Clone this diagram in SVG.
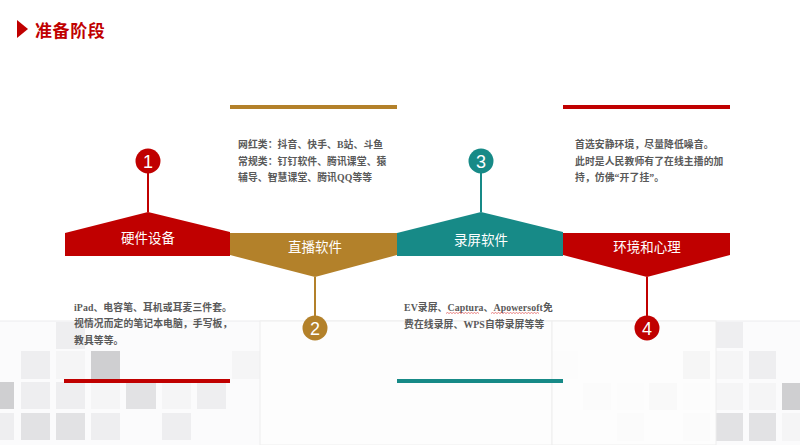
<svg xmlns="http://www.w3.org/2000/svg" width="800" height="445" viewBox="0 0 800 445">
  <style>
    .seg-label { font-family: "Noto Sans CJK SC", "Noto Sans", sans-serif; font-size: 13.5px; fill: #ffffff; text-anchor: middle; }
    .num { font-family: "Liberation Sans", Arial, sans-serif; font-size: 18px; fill: #ffffff; text-anchor: middle; }
    .body { font-family: "Liberation Serif", "Noto Sans CJK SC", serif; font-size: 9.8px; fill: #595959; font-weight: bold; letter-spacing: 0.1px; }
    .red { fill: #c00000; }
    .gold { fill: #b3812a; }
    .teal { fill: #178a87; }
    .stem { stroke-width: 2; fill: none; }
    .wavy { stroke: #e05050; stroke-width: 0.7; fill: none; }
    .sq1 { fill: #cfcfd1; }
    .sq2 { fill: #e2e2e4; }
    .sq3 { fill: #eeeef0; }
    .sq4 { fill: #f5f5f6; }
  </style>

  <!-- background -->
  <rect x="0" y="0" width="800" height="445" fill="#ffffff"/>
  <g id="background">
    <rect x="0" y="321" width="800" height="124" fill="#fbfbfc"/>
    <line x1="0" y1="321" x2="800" y2="321" stroke="#ececee" stroke-width="1"/>
    <!-- left squares -->
    <rect class="sq3" x="56" y="322" width="29" height="27"/>
    <rect class="sq3" x="21" y="351" width="29" height="28"/>
    <rect class="sq4" x="56" y="351" width="29" height="28"/>
    <rect class="sq1" x="91" y="351" width="29" height="28"/>
    <rect class="sq4" x="232" y="351" width="28" height="28"/>
    <rect class="sq1" x="0" y="382" width="14" height="27"/>
    <rect class="sq3" x="21" y="382" width="29" height="27"/>
    <rect class="sq3" x="56" y="382" width="29" height="27"/>
    <rect class="sq4" x="91" y="382" width="29" height="27"/>
    <rect class="sq2" x="126" y="382" width="30" height="27"/>
    <rect class="sq4" x="162" y="382" width="29" height="27"/>
    <rect class="sq3" x="197" y="382" width="29" height="27"/>
    <rect class="sq3" x="0" y="413" width="14" height="27"/>
    <rect class="sq2" x="21" y="413" width="29" height="27"/>
    <rect class="sq2" x="56" y="413" width="29" height="27"/>
    <rect class="sq3" x="91" y="413" width="29" height="27"/>
    <rect class="sq3" x="162" y="413" width="29" height="27"/>
    <!-- right squares -->
    <rect class="sq3" x="716" y="322" width="27" height="26"/>
    <rect class="sq4" x="552" y="351" width="26" height="28"/>
    <rect class="sq1" x="683" y="351" width="27" height="28"/>
    <rect class="sq4" x="716" y="351" width="27" height="28"/>
    <rect class="sq3" x="749" y="351" width="27" height="28"/>
    <rect class="sq3" x="583" y="383" width="28" height="27"/>
    <rect class="sq4" x="617" y="383" width="27" height="27"/>
    <rect class="sq2" x="649" y="383" width="28" height="27"/>
    <rect class="sq4" x="683" y="383" width="27" height="27"/>
    <rect class="sq4" x="716" y="383" width="27" height="27"/>
    <rect class="sq4" x="749" y="383" width="27" height="27"/>
    <rect class="sq1" x="782" y="383" width="18" height="27"/>
    <rect class="sq3" x="617" y="413" width="27" height="28"/>
    <rect class="sq3" x="683" y="413" width="27" height="28"/>
    <rect class="sq2" x="716" y="413" width="27" height="28"/>
    <rect class="sq2" x="749" y="413" width="27" height="28"/>
    <rect class="sq4" x="782" y="413" width="18" height="28"/>
    <!-- white panels -->
    <rect x="260" y="321" width="292" height="124" fill="#fdfdfd" stroke="#eeeeee" stroke-width="1"/>
    <rect x="552" y="321" width="164" height="124" fill="#fdfdfd" fill-opacity="0.85" stroke="#eeeeee" stroke-width="1"/>
  </g>

  <!-- title -->
  <g id="title">
    <polygon points="17,20 28,29 17,38" fill="#c00000"/>
    <text x="35" y="37" font-family="Noto Sans CJK SC, sans-serif" font-size="17" font-weight="bold" fill="#c00000" letter-spacing="0.6">准备阶段</text>
  </g>

  <!-- connectors -->
  <g id="connectors">
    <line class="stem" x1="148" y1="172" x2="148" y2="212" stroke="#c00000"/>
    <line class="stem" x1="315" y1="277" x2="315" y2="317" stroke="#b3812a"/>
    <line class="stem" x1="481" y1="172" x2="481" y2="212" stroke="#178a87"/>
    <line class="stem" x1="647" y1="277" x2="647" y2="317" stroke="#c00000"/>
  </g>

  <!-- nodes -->
  <g id="node-1">
    <polygon class="red" points="65,233 148,212 230,232 230,256 65,256"/>
    <text class="seg-label" x="148" y="243">硬件设备</text>
    <circle class="red" cx="148" cy="161" r="12.5"/>
    <text class="num" x="148" y="167.5">1</text>
  </g>
  <g id="node-2">
    <polygon class="gold" points="230,233 397,233 397,255 315,277 230,255"/>
    <text class="seg-label" x="315" y="252">直播软件</text>
    <circle class="gold" cx="315" cy="328" r="12.5"/>
    <text class="num" x="315" y="334.5">2</text>
  </g>
  <g id="node-3">
    <polygon class="teal" points="397,233 481,212 563,232 563,256 397,256"/>
    <text class="seg-label" x="481" y="245">录屏软件</text>
    <circle class="teal" cx="481" cy="161" r="12.5"/>
    <text class="num" x="481" y="167.5">3</text>
  </g>
  <g id="node-4">
    <polygon class="red" points="563,233 730,233 730,255 647,277 563,255"/>
    <text class="seg-label" x="647" y="252">环境和心理</text>
    <circle class="red" cx="647" cy="328" r="12.5"/>
    <text class="num" x="647" y="334.5">4</text>
  </g>

  <!-- accent bars -->
  <g id="bars">
    <rect class="gold" x="230" y="105" width="167" height="4"/>
    <rect class="red" x="563" y="105" width="167" height="4"/>
    <rect class="red" x="64" y="379" width="166" height="4"/>
    <rect class="teal" x="397" y="379" width="166" height="4"/>
  </g>

  <!-- descriptions -->
  <g id="desc-2">
    <text class="body" x="238" y="148">网红类：抖音、快手、B站、斗鱼</text>
    <text class="body" x="238" y="165">常规类：钉钉软件、腾讯课堂、猿</text>
    <text class="body" x="238" y="181">辅导、智慧课堂、腾讯QQ等等</text>
  </g>
  <g id="desc-4">
    <text class="body" x="575" y="148">首选安静环境，尽量降低噪音。</text>
    <text class="body" x="575" y="165">此时是人民教师有了在线主播的加</text>
    <text class="body" x="575" y="181">持，仿佛“开了挂”。</text>
  </g>
  <g id="desc-1">
    <text class="body" x="74" y="311">iPad、电容笔、耳机或耳麦三件套。</text>
    <text class="body" x="74" y="327">视情况而定的笔记本电脑，手写板，</text>
    <text class="body" x="74" y="344">教具等等。</text>
  </g>
  <g id="desc-3">
    <text class="body" x="404" y="311">EV录屏、Captura、Apowersoft免</text>
    <text class="body" x="404" y="328">费在线录屏、WPS自带录屏等等</text>
    <path class="wavy" d="M446,313.5 l1.5,-1 l1.5,1 l1.5,-1 l1.5,1 l1.5,-1 l1.5,1 l1.5,-1 l1.5,1 l1.5,-1 l1.5,1 l1.5,-1 l1.5,1 l1.5,-1 l1.5,1 l1.5,-1 l1.5,1 l1.5,-1 l1.5,1 l1.5,-1 l1.5,1 l1.5,-1 l1.5,1"/>
    <path class="wavy" d="M491,313.5 l1.5,-1 l1.5,1 l1.5,-1 l1.5,1 l1.5,-1 l1.5,1 l1.5,-1 l1.5,1 l1.5,-1 l1.5,1 l1.5,-1 l1.5,1 l1.5,-1 l1.5,1 l1.5,-1 l1.5,1 l1.5,-1 l1.5,1 l1.5,-1 l1.5,1 l1.5,-1 l1.5,1 l1.5,-1 l1.5,1 l1.5,-1 l1.5,1 l1.5,-1 l1.5,1 l1.5,-1 l1.5,1 l1.5,-1 l1.5,1"/>
  </g>
</svg>
